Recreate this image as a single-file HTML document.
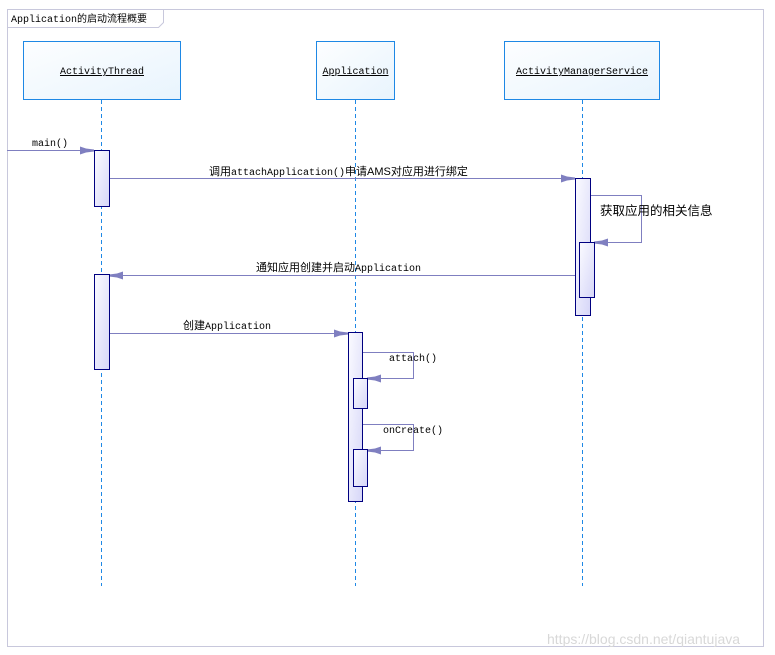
<!DOCTYPE html>
<html><head><meta charset="utf-8"><style>
html,body{margin:0;padding:0;background:#fff;width:775px;height:655px;overflow:hidden}
svg{display:block}
text{font-family:"Liberation Mono","Noto Sans CJK SC",monospace;font-size:10px;fill:#000}
.cjk{font-family:"Liberation Sans","Noto Sans CJK SC",sans-serif;font-size:12px}
</style></head><body>
<svg width="775" height="655" viewBox="0 0 775 655" xmlns="http://www.w3.org/2000/svg">
<defs>
<linearGradient id="bx" x1="0" y1="0" x2="1" y2="1"><stop offset="0" stop-color="#fdfeff"/><stop offset="1" stop-color="#e8f4fd"/></linearGradient>
<linearGradient id="ac" x1="0" y1="0" x2="1" y2="1"><stop offset="0" stop-color="#fbfbff"/><stop offset="1" stop-color="#d6d6f8"/></linearGradient>
<marker id="ar" viewBox="0 0 14 10" refX="14" refY="5" markerWidth="14" markerHeight="10" markerUnits="userSpaceOnUse" orient="auto"><path d="M0,1 L6,3 L14,4 L14,6 L6,7 L0,9 Z" fill="#7f7fc0"/></marker>
</defs>
<!-- frame -->
<rect x="7.5" y="9.5" width="756" height="637" fill="none" stroke="#c8c8dc"/>
<path d="M7.5,27.5 H158.5 L163.5,22.5 V9.5" fill="none" stroke="#c8c8dc"/>
<text x="11" y="22">Application的启动流程概要</text>
<!-- lifeline boxes -->
<rect x="23.5" y="41.5" width="157" height="58" fill="url(#bx)" stroke="#1e88e5"/>
<text x="102" y="74" text-anchor="middle" text-decoration="underline">ActivityThread</text>
<rect x="316.5" y="41.5" width="78" height="58" fill="url(#bx)" stroke="#1e88e5"/>
<text x="355.5" y="74" text-anchor="middle" text-decoration="underline">Application</text>
<rect x="504.5" y="41.5" width="155" height="58" fill="url(#bx)" stroke="#1e88e5"/>
<text x="582" y="74" text-anchor="middle" text-decoration="underline">ActivityManagerService</text>
<!-- lifelines -->
<g stroke="#1e88e5" stroke-dasharray="4,3">
<line x1="101.5" y1="100" x2="101.5" y2="586"/>
<line x1="355.5" y1="100" x2="355.5" y2="586"/>
<line x1="582.5" y1="100" x2="582.5" y2="586"/>
</g>
<!-- messages -->
<g stroke="#7f7fc0" fill="none">
<line x1="7" y1="150.5" x2="94" y2="150.5" marker-end="url(#ar)"/>
<line x1="109" y1="178.5" x2="575" y2="178.5" marker-end="url(#ar)"/>
<polyline points="590,195.5 641.5,195.5 641.5,242.5 594,242.5" marker-end="url(#ar)"/>
<line x1="575" y1="275.5" x2="109" y2="275.5" marker-end="url(#ar)"/>
<line x1="109" y1="333.5" x2="348" y2="333.5" marker-end="url(#ar)"/>
<polyline points="362,352.5 413.5,352.5 413.5,378.5 367,378.5" marker-end="url(#ar)"/>
<polyline points="362,424.5 413.5,424.5 413.5,450.5 367,450.5" marker-end="url(#ar)"/>
</g>
<!-- activations -->
<g stroke="#000080" fill="url(#ac)">
<rect x="94.5" y="150.5" width="15" height="56"/>
<rect x="94.5" y="274.5" width="15" height="95"/>
<rect x="575.5" y="178.5" width="15" height="137"/>
<rect x="579.5" y="242.5" width="15" height="55"/>
<rect x="348.5" y="332.5" width="14" height="169"/>
<rect x="353.5" y="378.5" width="14" height="30"/>
<rect x="353.5" y="449.5" width="14" height="37"/>
</g>
<!-- labels -->
<text x="32" y="146">main()</text>
<text x="209" y="175" class="cjk" style="font-size:11px">调用<tspan style="font-family:'Liberation Mono',monospace;font-size:10px">attachApplication()</tspan>申请AMS对应用进行绑定</text>
<text x="600" y="215" class="cjk" style="font-size:12.5px">获取应用的相关信息</text>
<text x="256" y="271" class="cjk" style="font-size:11px">通知应用创建并启动<tspan style="font-family:'Liberation Mono',monospace;font-size:10px">Application</tspan></text>
<text x="183" y="329" class="cjk" style="font-size:11px">创建<tspan style="font-family:'Liberation Mono',monospace;font-size:10px">Application</tspan></text>
<text x="389" y="361">attach()</text>
<text x="383" y="433">onCreate()</text>
<text x="547" y="644" style="font-family:'Liberation Sans',sans-serif;font-size:14px;fill:#d8d8d8">https://blog.csdn.net/qiantujava</text>
</svg>
</body></html>
